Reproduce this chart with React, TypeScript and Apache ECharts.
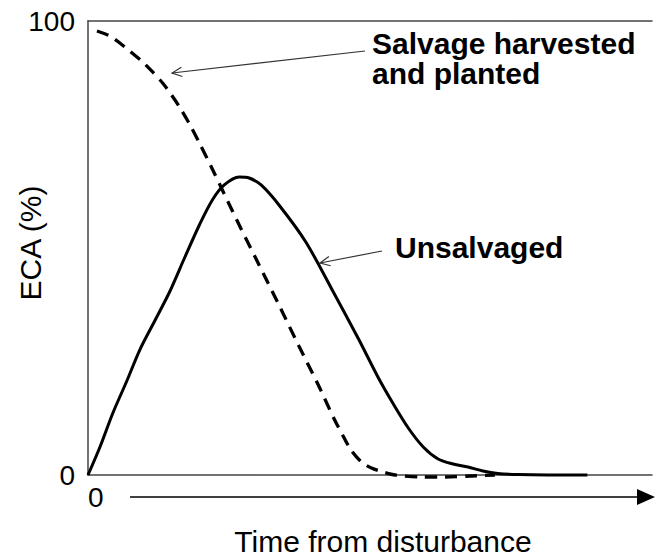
import React, { useEffect, useRef } from "react";
import * as echarts from "echarts";

// Time (0–100 across the plot) and ECA (%)
const unsalvagedTime = [0, 2.12, 4.41, 6.88, 9.17, 11.82, 14.46, 17.11, 19.75, 22.05, 24.16, 26.81, 28.57, 30.69, 33.86, 38.62, 43.21, 47.97, 51.5, 54.14, 56.79, 59.44, 62.08, 64.73, 67.37, 70.02, 72.66, 76.19, 81.48, 88.54];
const unsalvagedECA = [0, 6.17, 13.66, 20.7, 27.53, 33.92, 40.31, 47.8, 55.07, 60.57, 63.88, 65.64, 65.42, 63.88, 59.47, 51.32, 40.97, 29.96, 21.37, 15.64, 10.35, 6.17, 3.52, 2.42, 1.76, 0.88, 0.33, 0.09, 0, 0];

const salvageTime = [1.59, 3.88, 5.64, 7.41, 9.7, 11.46, 13.23, 14.81, 16.23, 17.99, 19.75, 21.87, 24.16, 26.81, 29.81, 33.86, 37.39, 40.92, 43.56, 45.33, 46.74, 48.5, 50.26, 52.38, 54.5, 59.08, 63.32, 67.9, 72.13];
const salvageECA = [97.8, 96.7, 95.15, 93.39, 90.97, 88.77, 86.34, 83.7, 81.06, 77.31, 73.13, 67.84, 61.89, 55.07, 47.58, 37.44, 28.41, 19.6, 12.56, 8.37, 5.29, 2.86, 1.54, 0.66, 0, -0.44, -0.44, -0.22, 0];

const yTicks = [0, 100];
const xTicks = [0];

const FONT = "'Liberation Sans', Arial, Helvetica, sans-serif";

function arrow(tail: number[], tip: number[], len = 11, ang = 0.44) {
  const dx = tail[0] - tip[0];
  const dy = tail[1] - tip[1];
  const d = Math.hypot(dx, dy);
  const ux = dx / d, uy = dy / d;
  const rot = (a: number) => [
    tip[0] + len * (ux * Math.cos(a) - uy * Math.sin(a)),
    tip[1] + len * (ux * Math.sin(a) + uy * Math.cos(a)),
  ];
  const stroke = { stroke: "#333", lineWidth: 1.2, fill: "none" };
  return [
    { type: "line", shape: { x1: tail[0], y1: tail[1], x2: tip[0], y2: tip[1] }, style: stroke, silent: true },
    { type: "polyline", shape: { points: [rot(ang), tip, rot(-ang)] }, style: stroke, silent: true },
  ];
}

export default function App() {
  const ref = useRef<HTMLDivElement>(null);
  useEffect(() => {
    if (!ref.current) return;
    const chart = echarts.init(ref.current, null, { renderer: "svg" });
    const axisLine = { show: true, lineStyle: { color: "#444", width: 1.5 } };
    chart.setOption({
      animation: false,
      backgroundColor: "#fff",
      grid: { left: 88, right: 0, top: 21, bottom: 83, containLabel: false },
      xAxis: [
        {
          type: "value", min: 0, max: 100, interval: 100, position: "bottom",
          axisLine, axisTick: { show: false }, splitLine: { show: false },
          axisLabel: {
            formatter: (v: number) => (xTicks.includes(v) ? String(v) : ""),
            align: "left", fontSize: 28, color: "#000", fontFamily: FONT, margin: 8,
          },
        },
        {
          type: "value", min: 0, max: 100, position: "top",
          axisLine, axisTick: { show: false }, splitLine: { show: false }, axisLabel: { show: false },
        },
      ],
      yAxis: {
        type: "value", min: 0, max: 100, interval: 100,
        axisLine, axisTick: { show: false }, splitLine: { show: false },
        axisLabel: {
          formatter: (v: number) => (yTicks.includes(v) ? String(v) : ""),
          fontSize: 28, color: "#000", fontFamily: FONT, margin: 13,
        },
      },
      series: [
        {
          type: "line", name: "Unsalvaged", smooth: 0.3, showSymbol: false, clip: false,
          data: unsalvagedTime.map((t, i) => [t, unsalvagedECA[i]]),
          lineStyle: { color: "#000", width: 3 },
        },
        {
          type: "line", name: "Salvage harvested and planted", smooth: 0.3, showSymbol: false, clip: false,
          data: salvageTime.map((t, i) => [t, salvageECA[i]]),
          lineStyle: { color: "#000", width: 3.3, type: [12, 8] },
        },
      ],
      graphic: [
        {
          type: "text", x: 30, y: 243, rotation: Math.PI / 2,
          style: { text: "ECA (%)", font: `30px ${FONT}`, fill: "#000", align: "center", verticalAlign: "middle" },
        },
        {
          type: "text", x: 383, y: 541,
          style: { text: "Time from disturbance", font: `30px ${FONT}`, fill: "#000", align: "center", verticalAlign: "middle" },
        },
        {
          type: "text", x: 372, y: 43,
          style: { text: "Salvage harvested", font: `bold 30px ${FONT}`, fill: "#000", align: "left", verticalAlign: "middle" },
        },
        {
          type: "text", x: 372, y: 73,
          style: { text: "and planted", font: `bold 30px ${FONT}`, fill: "#000", align: "left", verticalAlign: "middle" },
        },
        {
          type: "text", x: 395, y: 247,
          style: { text: "Unsalvaged", font: `bold 30px ${FONT}`, fill: "#000", align: "left", verticalAlign: "middle" },
        },
        ...arrow([365, 51], [172, 73]),
        ...arrow([382, 251], [320, 263]),
        {
          type: "line", shape: { x1: 130, y1: 497, x2: 640, y2: 497 },
          style: { stroke: "#000", lineWidth: 1.5 }, silent: true,
        },
        {
          type: "polygon", shape: { points: [[637, 489], [655, 497], [637, 505]] },
          style: { fill: "#000" }, silent: true,
        },
      ],
    });
    return () => chart.dispose();
  }, []);
  return (
    <div
      ref={ref}
      style={{ position: "absolute", left: 0, top: 0, width: 655, height: 558, background: "#fff" }}
    />
  );
}
